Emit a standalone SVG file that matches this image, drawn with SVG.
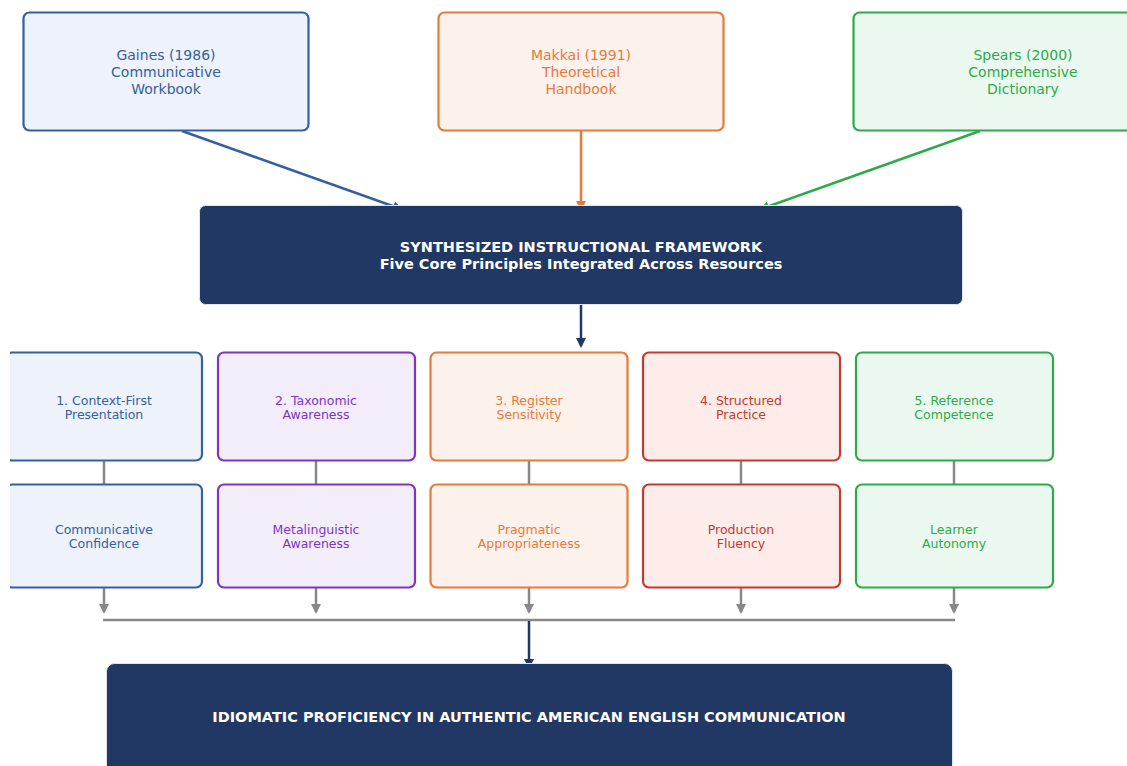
<svg xmlns="http://www.w3.org/2000/svg" width="1127" height="766" viewBox="0 0 1127 766">
<style>
text{font-family:"DejaVu Sans","Liberation Sans",sans-serif;text-anchor:middle}
.t{font-size:14px}
.s{font-size:12.5px}
.b{font-size:14.5px;font-weight:bold;fill:#fff}
.blue{fill:#edf2fb;stroke:#3560a0;stroke-width:2.2}
.orange{fill:#fdf1ec;stroke:#e8793a;stroke-width:2.2}
.green{fill:#ebf8ef;stroke:#2eaa4a;stroke-width:2.2}
.purple{fill:#f3ecf9;stroke:#7d36c2;stroke-width:2.2}
.red{fill:#fdecea;stroke:#c23b2f;stroke-width:2.2}
.tb{fill:#3560a0}.to{fill:#e8793a}.tg{fill:#2eaa4a}.tp{fill:#7d36c2}.tr{fill:#c23b2f}
.navy{fill:#213864;stroke:#dfe4ee;stroke-width:1}
.c{fill:none;stroke-width:2.5}
</style>
<defs>
<marker id="mb" viewBox="0 0 10 10" refX="8" refY="5" markerWidth="4" markerHeight="4" orient="auto"><path d="M0,0 L10,5 L0,10 z" fill="#3560a0"/></marker>
<marker id="mo" viewBox="0 0 10 10" refX="8" refY="5" markerWidth="4" markerHeight="4" orient="auto"><path d="M0,0 L10,5 L0,10 z" fill="#e8793a"/></marker>
<marker id="mg" viewBox="0 0 10 10" refX="8" refY="5" markerWidth="4" markerHeight="4" orient="auto"><path d="M0,0 L10,5 L0,10 z" fill="#2eaa4a"/></marker>
<marker id="mn" viewBox="0 0 10 10" refX="8" refY="5" markerWidth="4" markerHeight="4" orient="auto"><path d="M0,0 L10,5 L0,10 z" fill="#213864"/></marker>
<marker id="mx" viewBox="0 0 10 10" refX="8" refY="5" markerWidth="4" markerHeight="4" orient="auto"><path d="M0,0 L10,5 L0,10 z" fill="#888"/></marker>
<clipPath id="cl"><rect x="10" y="0" width="1117" height="766"/></clipPath>
</defs>

<g id="connectors">
<line class="c" x1="182" y1="131" x2="401" y2="209" stroke="#3560a0" marker-end="url(#mb)"/>
<line class="c" x1="581" y1="131" x2="581" y2="209" stroke="#e8793a" marker-end="url(#mo)"/>
<line class="c" x1="980" y1="131" x2="761" y2="209" stroke="#2eaa4a" marker-end="url(#mg)"/>
<line class="c" x1="581" y1="304" x2="581" y2="346" stroke="#213864" marker-end="url(#mn)"/>
<g stroke="#888">
<line class="c" x1="104" y1="461" x2="104" y2="484"/>
<line class="c" x1="316" y1="461" x2="316" y2="484"/>
<line class="c" x1="529" y1="461" x2="529" y2="484"/>
<line class="c" x1="741" y1="461" x2="741" y2="484"/>
<line class="c" x1="954" y1="461" x2="954" y2="484"/>
<line class="c" x1="104" y1="588" x2="104" y2="612" marker-end="url(#mx)"/>
<line class="c" x1="316" y1="588" x2="316" y2="612" marker-end="url(#mx)"/>
<line class="c" x1="529" y1="588" x2="529" y2="612" marker-end="url(#mx)"/>
<line class="c" x1="741" y1="588" x2="741" y2="612" marker-end="url(#mx)"/>
<line class="c" x1="954" y1="588" x2="954" y2="612" marker-end="url(#mx)"/>
<line class="c" x1="103" y1="620" x2="955" y2="620"/>
</g>
<line class="c" x1="529" y1="621" x2="529" y2="667" stroke="#213864" marker-end="url(#mn)"/>
</g>

<g id="gaines"><rect class="blue" x="23.5" y="12.5" width="285" height="118" rx="6"/>
<text class="t tb" x="166" y="60">Gaines (1986)</text><text class="t tb" x="166" y="77">Communicative</text><text class="t tb" x="166" y="94">Workbook</text></g>
<g id="makkai"><rect class="orange" x="438.5" y="12.5" width="285" height="118" rx="6"/>
<text class="t to" x="581" y="60">Makkai (1991)</text><text class="t to" x="581" y="77">Theoretical</text><text class="t to" x="581" y="94">Handbook</text></g>
<g id="spears"><rect class="green" x="853.5" y="12.5" width="340" height="118" rx="6"/>
<text class="t tg" x="1023" y="60">Spears (2000)</text><text class="t tg" x="1023" y="77">Comprehensive</text><text class="t tg" x="1023" y="94">Dictionary</text></g>

<g id="framework"><rect class="navy" x="199.5" y="205.5" width="763" height="99" rx="6"/>
<text class="b" x="581" y="252">SYNTHESIZED INSTRUCTIONAL FRAMEWORK</text>
<text class="b" x="581" y="269">Five Core Principles Integrated Across Resources</text></g>

<g id="p1" clip-path="url(#cl)"><rect class="blue" x="6" y="352.5" width="196" height="108" rx="6"/>
<text class="s tb" x="104" y="405">1. Context-First</text><text class="s tb" x="104" y="419">Presentation</text></g>
<g id="p2"><rect class="purple" x="218" y="352.5" width="197" height="108" rx="6"/>
<text class="s tp" x="316" y="405">2. Taxonomic</text><text class="s tp" x="316" y="419">Awareness</text></g>
<g id="p3"><rect class="orange" x="430.5" y="352.5" width="197" height="108" rx="6"/>
<text class="s to" x="529" y="405">3. Register</text><text class="s to" x="529" y="419">Sensitivity</text></g>
<g id="p4"><rect class="red" x="643" y="352.5" width="197" height="108" rx="6"/>
<text class="s tr" x="741" y="405">4. Structured</text><text class="s tr" x="741" y="419">Practice</text></g>
<g id="p5"><rect class="green" x="856" y="352.5" width="197" height="108" rx="6"/>
<text class="s tg" x="954" y="405">5. Reference</text><text class="s tg" x="954" y="419">Competence</text></g>

<g id="o1" clip-path="url(#cl)"><rect class="blue" x="6" y="484.5" width="196" height="103" rx="6"/>
<text class="s tb" x="104" y="534">Communicative</text><text class="s tb" x="104" y="548">Confidence</text></g>
<g id="o2"><rect class="purple" x="218" y="484.5" width="197" height="103" rx="6"/>
<text class="s tp" x="316" y="534">Metalinguistic</text><text class="s tp" x="316" y="548">Awareness</text></g>
<g id="o3"><rect class="orange" x="430.5" y="484.5" width="197" height="103" rx="6"/>
<text class="s to" x="529" y="534">Pragmatic</text><text class="s to" x="529" y="548">Appropriateness</text></g>
<g id="o4"><rect class="red" x="643" y="484.5" width="197" height="103" rx="6"/>
<text class="s tr" x="741" y="534">Production</text><text class="s tr" x="741" y="548">Fluency</text></g>
<g id="o5"><rect class="green" x="856" y="484.5" width="197" height="103" rx="6"/>
<text class="s tg" x="954" y="534">Learner</text><text class="s tg" x="954" y="548">Autonomy</text></g>

<g id="outcome"><rect class="navy" x="106.5" y="663.5" width="846" height="120" rx="8"/>
<text class="b" x="529" y="722">IDIOMATIC PROFICIENCY IN AUTHENTIC AMERICAN ENGLISH COMMUNICATION</text></g>
</svg>
